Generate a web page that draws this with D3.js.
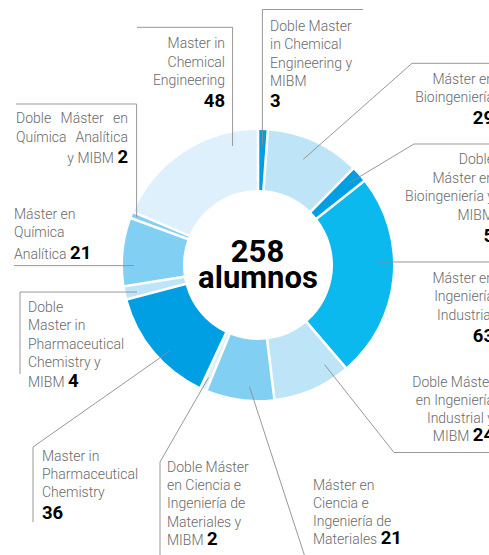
<!DOCTYPE html>
<html><head><meta charset="utf-8">
<script src="https://cdn.jsdelivr.net/npm/d3@7"></script>
<style>body{margin:0;background:#fff} svg{display:block}</style>
</head><body><svg id="c" width="489" height="555"></svg>
<script>
// ---- data ----
const categories = [
  "Doble Master in Chemical Engineering y MIBM",
  "Máster en Bioingeniería",
  "Doble Máster en Bioingeniería y MIBM",
  "Máster en Ingeniería Industrial",
  "Doble Máster en Ingeniería Industrial y MIBM",
  "Máster en Ciencia e Ingeniería de Materiales",
  "Doble Máster en Ciencia e Ingeniería de Materiales y MIBM",
  "Master in Pharmaceutical Chemistry",
  "Doble Master in Pharmaceutical Chemistry y MIBM",
  "Máster en Química Analítica",
  "Doble Máster en Química Analítica y MIBM",
  "Master in Chemical Engineering"
];
const values = [3, 29, 5, 63, 24, 21, 2, 36, 4, 21, 2, 48];
const totalValue = 258;
const totalUnit = "alumnos";

// ---- styles ----
const sliceColors = ["#009ee2","#bee4f8","#009ee2","#0bb9ee","#bee4f8","#82cff4",
                     "#dbeffc","#009ee2","#bee4f8","#82cff4","#82cff4","#ddf0fc"];

// ---- layout ----
const W = 489, H = 555, cx = 258, cy = 265, rOut = 135, rIn = 75;
const layout = [
  {breaks:[2,2,2,1], inline:false, anchor:"start", x:270, ys:[30.7,49.2,67.7,86.2], numY:107.3, f:0.5, r:120,
   leader:s=>[s,[s[0],9.5],[363,9.5]]},
  {breaks:[2,1], inline:false, anchor:"end", x:494, ys:[84,102.3], numY:123.5, f:0.47, r:115,
   leader:s=>[s,[412,63.3],[489,63.3]]},
  {breaks:[1,2,2,1], inline:false, anchor:"end", x:494, ys:[164,182.5,201,219.5], numY:241.5, f:0.48, r:122.5,
   leader:s=>[s,[414,144],[489,144]]},
  {breaks:[2,1,1], inline:false, anchor:"end", x:494, ys:[283,301.3,319.6], numY:341.7, f:0.42, r:119,
   leader:s=>[s,[489,s[1]]]},
  {breaks:[2,2,2,1], inline:true, anchor:"end", x:494, ys:[387,405,423,441], f:0.2, r:120,
   leader:s=>[s,[394,452.5],[489,452.5]]},
  {breaks:[2,2,2,1], inline:true, anchor:"start", x:313, ys:[490,508,526,544], f:0.375, r:122,
   leader:s=>[s,[306,560]]},
  {breaks:[2,3,2,2,1], inline:true, anchor:"start", x:167, ys:[471.7,490,508.3,526.6,545], f:0.5, r:122.8,
   leader:s=>[s,[160,462],[160,560]]},
  {breaks:[2,1,1], inline:false, anchor:"start", x:42, ys:[460.7,479,497.3], numY:518.5, f:0.41, r:122.8,
   leader:s=>[s,[33,447],[33,522]]},
  {breaks:[1,2,1,2,1], inline:true, anchor:"start", x:28, ys:[311.7,330.2,348.7,367.2,386.5], f:0.37, r:124,
   leader:s=>[s,[20,s[1]],[20,374]]},
  {breaks:[2,1,1], inline:true, anchor:"start", x:14, ys:[219,237.3,259], f:0.3, r:124,
   leader:s=>[s,[14,s[1]]]},
  {breaks:[3,2,2], inline:true, anchor:"end", x:128, x0:16, justify:[true,true,false], ys:[123.3,142.3,163.3], f:0.5, r:130.6,
   leader:s=>[s,[s[0],104],[16,104]]},
  {breaks:[2,1,1], inline:false, anchor:"end", x:225, ys:[48.3,66.8,85.3], numY:106.7, f:0.82, r:121.7,
   leader:s=>[s,[s[0],27.3],[137,27.3]]}
];

const svg = d3.select("#c");
const g = svg.append("g").attr("transform", `translate(${cx},${cy})`);

const pie = d3.pie().sort(null).value(d => d).startAngle(0).endAngle(2*Math.PI);
const arcs = pie(values);
const arc = d3.arc().innerRadius(rIn).outerRadius(rOut).padAngle(0.019).padRadius(rOut);

g.selectAll("path.slice").data(arcs).join("path")
  .attr("class","slice")
  .attr("d", arc)
  .attr("fill", (d,i) => sliceColors[i]);

// leader lines
const line = d3.line();
arcs.forEach((a, i) => {
  const L = layout[i];
  const ang = a.startAngle + L.f * (a.endAngle - a.startAngle);
  const p = d3.pointRadial(ang, L.r);
  const s = [cx + p[0], cy + p[1]];
  svg.append("path").attr("d", line(L.leader(s)))
    .attr("fill","none").attr("stroke","#8c8c8c").attr("stroke-width",0.9);
});

// labels
const labelFont = "Roboto, 'Liberation Sans', sans-serif";
const textColor = "#6a6a6a";
categories.forEach((cat, i) => {
  const L = layout[i];
  const words = cat.split(" ");
  const lines = [];
  let k = 0;
  L.breaks.forEach(n => { lines.push(words.slice(k, k+n)); k += n; });
  lines.forEach((ws, li) => {
    const isLast = li === lines.length - 1;
    if (L.justify && L.justify[li]) {
      // justified line: distribute words between x0 and x
      const tmp = ws.map(w => svg.append("text").attr("font-family",labelFont).attr("font-size",14)
        .attr("font-weight",300).attr("fill",textColor).attr("y",L.ys[li]).text(w));
      const widths = tmp.map(t => t.node().getComputedTextLength());
      const sum = d3.sum(widths);
      const gap = (L.x - L.x0 - sum) / (ws.length - 1);
      let xx = L.x0;
      tmp.forEach((t, j) => { t.attr("x", xx); xx += widths[j] + gap; });
      return;
    }
    const t = svg.append("text")
      .attr("x", L.x).attr("y", L.ys[li])
      .attr("text-anchor", L.anchor)
      .attr("font-family", labelFont).attr("font-size", 14).attr("font-weight", 300)
      .attr("fill", textColor);
    t.append("tspan").text(ws.join(" "));
    if (isLast && L.inline) {
      t.append("tspan").text(" ");
      t.append("tspan").attr("font-size",18.5).attr("font-weight",700).attr("fill","#000")
        .attr("font-family","Roboto, sans-serif").text(values[i]);
    }
  });
  if (!L.inline) {
    svg.append("text").attr("x", L.x).attr("y", L.numY)
      .attr("text-anchor", L.anchor)
      .attr("font-family","Roboto, sans-serif").attr("font-size",18.5).attr("font-weight",700)
      .attr("fill","#000").text(values[i]);
  }
});

// center label
svg.append("text").attr("x", cx - 0.5).attr("y", 261.5).attr("text-anchor","middle")
  .attr("font-family","Roboto, sans-serif").attr("font-size",31).attr("font-weight",700)
  .attr("fill","#000").text(totalValue);
svg.append("text").attr("x", cx).attr("y", 288).attr("text-anchor","middle")
  .attr("font-family","Roboto, sans-serif").attr("font-size",31).attr("font-weight",700)
  .attr("fill","#000").text(totalUnit);
</script></body></html>
